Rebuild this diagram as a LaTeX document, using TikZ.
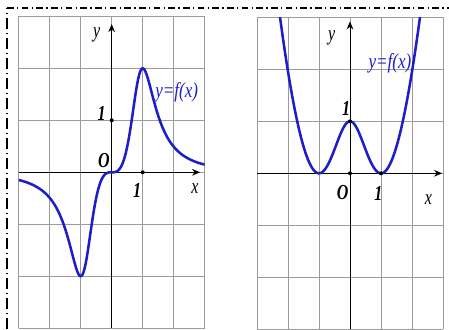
\documentclass[tikz,border=0pt]{standalone}
\usepackage{fontspec}
\setmainfont{Liberation Serif}
\usetikzlibrary{arrows.meta}
\definecolor{curveblue}{RGB}{30,30,200}
\definecolor{gridgray}{RGB}{155,155,155}
\begin{document}
\begin{tikzpicture}[x=0.75pt,y=0.75pt,
  gridline/.style={draw=gridgray,line width=0.65pt},
  axisline/.style={draw=black,line width=0.75pt,-{Stealth[length=6pt,width=5pt]}},
  curveline/.style={draw=curveblue,line width=1.9pt,line join=round},
  lbl/.style={font=\fontsize{16}{16}\selectfont\itshape,inner sep=0pt,xscale=0.75,transform shape},
  numlbl/.style={font=\fontsize{16}{16}\selectfont\bfseries\itshape,inner sep=0pt,xscale=0.75,transform shape},
  fnlbl/.style={font=\fontsize{16}{16}\selectfont\itshape,text=curveblue,inner sep=0pt,xscale=0.8,transform shape},
  dotmark/.style={circle,fill=black,inner sep=0pt,minimum size=3pt},
  border/.style={draw=black,line width=1pt}
]
\useasboundingbox (0,0) rectangle (449,329);
\coordinate (bl) at (7,0);
\coordinate (tl) at (7,321);
\coordinate (tr) at (449,321);
\draw[border,dash pattern=on 8pt off 3pt on 1pt off 3pt] (bl) -- (tl);
\draw[border,dash pattern=on 5pt off 2.5pt on 1pt off 2.5pt] (tl) -- (tr);

% left graph
\begin{scope}[shift={(111.7,156.7)}]
\begin{scope}[x=23.25pt,y=39pt]
\draw[gridline,xstep=1,ystep=1] (-3,-3) grid (3,3);
\coordinate (LxS) at (-3,0); \coordinate (LxE) at (2.85,0);
\coordinate (LyS) at (0,-3); \coordinate (LyE) at (0,2.85);
\draw[axisline] (LxS) -- (LxE);
\draw[axisline] (LyS) -- (LyE);
\draw[curveline] plot[domain=-3:3,samples=200,smooth] (\x,{4*\x*\x*\x/(1+\x*\x*\x*\x*\x*\x)});
\node[dotmark] (L1y) at (0,1) {};
\node[dotmark] (L1x) at (1,0) {};
\end{scope}
\end{scope}

% right graph
\begin{scope}[shift={(350,155.7)}]
\begin{scope}[x=23.25pt,y=39pt]
\draw[gridline,xstep=1,ystep=1] (-3,-3) grid (3,3);
\coordinate (RxS) at (-3,0); \coordinate (RxE) at (2.97,0);
\coordinate (RyS) at (0,-3); \coordinate (RyE) at (0,2.92);
\draw[axisline] (RxS) -- (RxE);
\draw[axisline] (RyS) -- (RyE);
\begin{scope}
\clip (-3,-3) rectangle (3,3);
\draw[curveline] plot[domain=-2.4:2.4,samples=200,smooth] (\x,{(\x*\x-1)*(\x*\x-1)/(1+0.9*\x*\x)});
\end{scope}
\node[dotmark] (R0) at (0,0) {};
\node[dotmark] (R1y) at (0,1) {};
\node[dotmark] (R1x) at (1,0) {};
\end{scope}
\end{scope}

% left labels
\node[lbl] (Ly) at (96.7,294) {y};
\node[numlbl] (L1) at (101.7,215.7) {1};
\node[numlbl] (LO) at (104,168) {O};
\node[numlbl] (L1b) at (137,139) {1};
\node[lbl] (Lx) at (195,140) {x};
\node[fnlbl] (Lf) at (176.7,237) {y=f(x)};

% right labels
\node[lbl] (Ry) at (331.7,290.7) {y};
\node[numlbl] (R1) at (346,220.7) {1};
\node[numlbl] (RO) at (342.7,136.7) {O};
\node[numlbl] (R1b) at (378.3,135.7) {1};
\node[lbl] (Rx) at (428.3,129) {x};
\node[fnlbl] (Rf) at (390,265.7) {y=f(x)};
\end{tikzpicture}
\end{document}
